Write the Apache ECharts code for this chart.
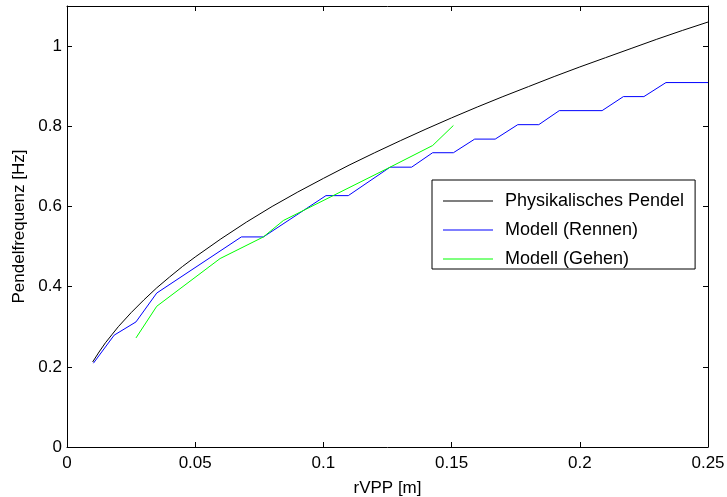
<!DOCTYPE html>
<html><head><meta charset="utf-8">
<script src="https://cdn.jsdelivr.net/npm/echarts@6/dist/echarts.min.js"></script>
<style>html,body{margin:0;padding:0;background:#fff}#c{width:727px;height:497px}</style>
</head><body><div id="c"></div>
<script>
const xTicks = [0, 0.05, 0.1, 0.15, 0.2, 0.25];
const yTicks = [0, 0.2, 0.4, 0.6, 0.8, 1];
const seriesNames = ['Physikalisches Pendel', 'Modell (Rennen)', 'Modell (Gehen)'];

const pendelX = [0.01, 0.0125, 0.015, 0.0175, 0.02, 0.025, 0.03, 0.035, 0.04, 0.045, 0.05, 0.06, 0.07, 0.08, 0.09, 0.1, 0.11, 0.12, 0.13, 0.14, 0.15, 0.16, 0.17, 0.18, 0.19, 0.2, 0.21, 0.22, 0.23, 0.24, 0.25];
const pendelY = [0.212, 0.237, 0.26, 0.28, 0.30, 0.335, 0.367, 0.397, 0.424, 0.45, 0.474, 0.519, 0.561, 0.60, 0.636, 0.67, 0.703, 0.734, 0.764, 0.793, 0.821, 0.848, 0.874, 0.899, 0.924, 0.948, 0.971, 0.994, 1.017, 1.039, 1.06];

const rennenX = [0.0103, 0.0184, 0.0269, 0.035, 0.068, 0.0766, 0.101, 0.1097, 0.126, 0.1344, 0.1426, 0.1507, 0.159, 0.167, 0.1758, 0.184, 0.192, 0.2087, 0.217, 0.225, 0.2336, 0.25];
const rennenY = [0.209, 0.279, 0.312, 0.384, 0.524, 0.524, 0.627, 0.627, 0.698, 0.698, 0.734, 0.734, 0.768, 0.768, 0.804, 0.804, 0.839, 0.839, 0.874, 0.874, 0.909, 0.909];

const gehenX = [0.0269, 0.035, 0.0597, 0.0766, 0.0844, 0.126, 0.1426, 0.1507];
const gehenY = [0.272, 0.351, 0.47, 0.524, 0.565, 0.698, 0.752, 0.802];

const pairs = (xs, ys) => xs.map((x, i) => [x, ys[i]]);
const FONT = 'Liberation Sans, Arial, sans-serif';

const chart = echarts.init(document.getElementById('c'), null, {renderer: 'canvas'});
const tickStyle = {show: true, inside: true, length: 5, lineStyle: {color: '#000', width: 1}};
chart.setOption({
  animation: false,
  backgroundColor: '#fff',
  grid: {left: 67, right: 19, top: 6, bottom: 50, containLabel: false, outerBoundsMode: 'none'},
  xAxis: [{
    type: 'value', min: 0, max: 0.25, interval: 0.05, position: 'bottom',
    name: 'rVPP [m]', nameLocation: 'middle', nameGap: 33,
    nameTextStyle: {color: '#000', fontSize: 17, fontFamily: FONT},
    axisLine: {show: true, onZero: false, lineStyle: {color: '#000', width: 1}},
    axisTick: tickStyle,
    axisLabel: {color: '#000', fontSize: 17, fontFamily: FONT, margin: 8,
      formatter: v => { const t = xTicks.find(k => Math.abs(k - v) < 1e-9); return t === undefined ? '' : String(t); }},
    splitLine: {show: false}
  }, {
    type: 'value', min: 0, max: 0.25, interval: 0.05, position: 'top',
    axisLine: {show: true, onZero: false, lineStyle: {color: '#000', width: 1}},
    axisTick: tickStyle, axisLabel: {show: false}, splitLine: {show: false}
  }],
  yAxis: [{
    type: 'value', min: 0, max: 1.1, interval: 0.2, position: 'left',
    name: 'Pendelfrequenz [Hz]', nameLocation: 'middle', nameGap: 38,
    nameTextStyle: {color: '#000', fontSize: 17, fontFamily: FONT},
    axisLine: {show: true, onZero: false, lineStyle: {color: '#000', width: 1}},
    axisTick: tickStyle,
    axisLabel: {color: '#000', fontSize: 17, fontFamily: FONT, margin: 5, showMaxLabel: false,
      formatter: v => { const t = yTicks.find(k => Math.abs(k - v) < 1e-9); return t === undefined ? '' : String(t); }},
    splitLine: {show: false}
  }, {
    type: 'value', min: 0, max: 1.1, interval: 0.2, position: 'right',
    axisLine: {show: true, onZero: false, lineStyle: {color: '#000', width: 1}},
    axisTick: tickStyle, axisLabel: {show: false}, splitLine: {show: false}
  }],
  legend: {
    orient: 'vertical', left: 432, top: 180,
    padding: [12, 11, 1, 11], itemGap: 11,
    itemWidth: 50, itemHeight: 1, icon: 'rect',
    backgroundColor: '#fff', borderColor: '#000', borderWidth: 1,
    textStyle: {color: '#000', fontSize: 18, fontFamily: FONT, padding: [0, 0, 0, 7]},
    data: seriesNames
  },
  series: [
    {name: seriesNames[0], type: 'line', data: pairs(pendelX, pendelY), symbol: 'none',
     lineStyle: {color: '#000000', width: 1}, itemStyle: {color: '#000000'}},
    {name: seriesNames[1], type: 'line', data: pairs(rennenX, rennenY), symbol: 'none',
     lineStyle: {color: '#0000ff', width: 1}, itemStyle: {color: '#0000ff'}},
    {name: seriesNames[2], type: 'line', data: pairs(gehenX, gehenY), symbol: 'none',
     lineStyle: {color: '#00ff00', width: 1}, itemStyle: {color: '#00ff00'}}
  ]
});
</script></body></html>
